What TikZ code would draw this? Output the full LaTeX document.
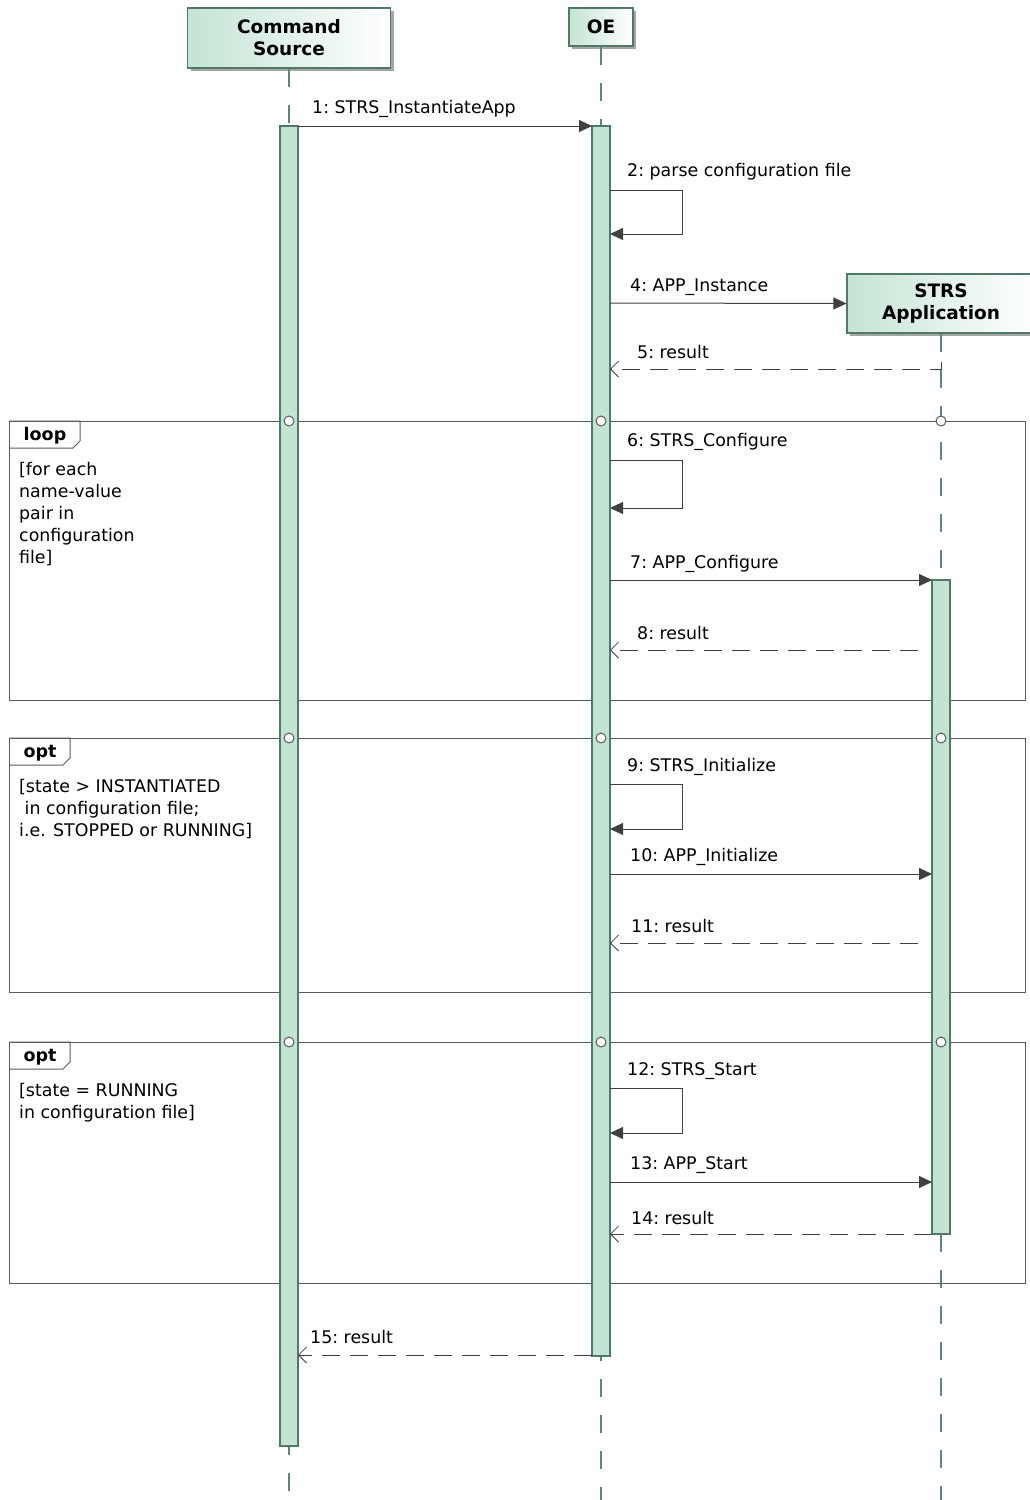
\documentclass[tikz,border=0pt]{standalone}
\usepackage{fontspec}
\setmainfont{DejaVu Sans}
\usetikzlibrary{arrows.meta,shadows}
\definecolor{barfill}{RGB}{195,227,211}
\definecolor{barline}{RGB}{78,122,102}
\definecolor{hdrfill}{RGB}{196,228,212}
\definecolor{lifec}{RGB}{96,134,116}
\definecolor{msgc}{RGB}{64,64,64}
\definecolor{fragc}{RGB}{90,90,90}
\tikzset{
  head/.style={draw=barline, line width=1.2pt, left color=hdrfill, right color=white,
    align=center, font=\fontsize{18.5}{22}\selectfont\bfseries, inner sep=0pt,
    drop shadow={shadow xshift=3pt, shadow yshift=-3pt, fill=black!35, opacity=1}},
  bar/.style={draw=barline, fill=barfill, line width=1.2pt, minimum width=18pt, inner sep=0pt, outer sep=0pt, anchor=north},
  lifeline/.style={draw=lifec, line width=1.2pt, dash pattern=on 18pt off 18pt},
  msg/.style={draw=msgc, line width=1pt, -{Triangle[length=13pt,width=12pt]}},
  reply/.style={draw=msgc, line width=1pt, dash pattern=on 18pt off 10pt, -{Straight Barb[length=8pt,width=16pt,line width=0.8pt]}},
  lbl/.style={anchor=west, inner sep=0pt, font=\fontsize{17.4}{22}\selectfont},
  guard/.style={anchor=north west, inner sep=0pt, align=left, font=\fontsize{17.4}{22}\selectfont},
  frag/.style={draw=fragc, line width=1pt},
  tabtxt/.style={inner sep=0pt, font=\fontsize{17.5}{22}\selectfont\bfseries},
  gate/.style={circle, draw=fragc, fill=white, line width=1pt, minimum size=10pt, inner sep=0pt}
}
\begin{document}
\begin{tikzpicture}[x=1pt,y=-1pt]
\useasboundingbox[fill=white] (0,0) rectangle (1030,1500);
% headers
\node[head, minimum width=203pt, minimum height=60pt] (cs) at (289,38) {Command\\Source};
\node[head, minimum width=64pt, minimum height=38pt] (oe) at (601,27) {OE};
\node[head, minimum width=188pt, minimum height=59pt] (app) at (941,303.5) {STRS\\Application};
% lifelines
\coordinate (csend) at (289,1500);
\coordinate (oeend) at (601,1500);
\coordinate (append) at (941,1500);
\draw[lifeline] (cs.south) -- (csend);
\draw[lifeline] (oe.south) -- (oeend);
\draw[lifeline] (app.south) -- (append);
% fragments
\node[frag, draw, minimum width=1016pt, minimum height=279pt, inner sep=0pt, anchor=north west] (loopf) at (9,421) {};
\node[frag, draw, minimum width=1016pt, minimum height=254pt, inner sep=0pt, anchor=north west] (opt1) at (9,738) {};
\node[frag, draw, minimum width=1016pt, minimum height=241pt, inner sep=0pt, anchor=north west] (opt2) at (9,1042) {};
\draw[frag] (loopf.north west) -- ++(71,0) -- ++(0,20) -- ++(-7,7) -- ++(-64,0);
\draw[frag] (opt1.north west) -- ++(61,0) -- ++(0,20) -- ++(-7,7) -- ++(-54,0);
\draw[frag] (opt2.north west) -- ++(61,0) -- ++(0,20) -- ++(-7,7) -- ++(-54,0);
\node[tabtxt] (looplbl) at (45,436) {loop};
\node[tabtxt] (opt1lbl) at (40,753) {opt};
\node[tabtxt] (opt2lbl) at (40,1057) {opt};
\node[guard] (g1) at (19,462) {[for each\\name-value\\pair in\\configuration\\file]};
\node[guard] (g2) at (19,779) {[state > INSTANTIATED\\\ in configuration file;\\i.e. STOPPED or RUNNING]};
\node[guard] (g3) at (19,1083) {[state = RUNNING\\in configuration file]};
% activation bars
\node[bar, minimum height=1320pt] (csbar) at (289,126) {};
\node[bar, minimum height=1230pt] (oebar) at (601,126) {};
\node[bar, minimum height=654pt] (appbar) at (941,580) {};
% gates
\foreach \yy/\nm in {421/a,738/b,1042/c}{
  \node[gate] (gcs\nm) at (289,\yy) {};
  \node[gate] (goe\nm) at (601,\yy) {};
  \node[gate] (gap\nm) at (941,\yy) {};
}
% messages
\draw[msg] (csbar.east |- 0,126) -- (oebar.west |- 0,126);
\node[lbl] (l1) at (312,109) {1:\ STRS\_InstantiateApp};
\draw[msg] (oebar.east |- 0,190) -- (682,190) -- (682,234) -- (oebar.east |- 0,234);
\node[lbl] (l2) at (627,172) {2:\ parse configuration file};
\draw[msg] (oebar.east |- 0,303) -- (app.west);
\node[lbl] (l4) at (630,287) {4:\ APP\_Instance};
\draw[reply] (941,362) -- (941,369) -- (oebar.east |- 0,369);
\node[lbl] (l5) at (637,352) {5:\ result};
\draw[msg] (oebar.east |- 0,460) -- (682,460) -- (682,508) -- (oebar.east |- 0,508);
\node[lbl] (l6) at (627,442) {6:\ STRS\_Configure};
\draw[msg] (oebar.east |- 0,580) -- (appbar.west |- 0,580);
\node[lbl] (l7) at (630,564) {7:\ APP\_Configure};
\draw[reply] (918,650) -- (oebar.east |- 0,650);
\node[lbl] (l8) at (637,633) {8:\ result};
\draw[msg] (oebar.east |- 0,784) -- (682,784) -- (682,829) -- (oebar.east |- 0,829);
\node[lbl] (l9) at (627,767) {9:\ STRS\_Initialize};
\draw[msg] (oebar.east |- 0,874) -- (appbar.west |- 0,874);
\node[lbl] (l10) at (630,857) {10:\ APP\_Initialize};
\draw[reply] (918,943) -- (oebar.east |- 0,943);
\node[lbl] (l11) at (631,926) {11:\ result};
\draw[msg] (oebar.east |- 0,1088) -- (682,1088) -- (682,1133) -- (oebar.east |- 0,1133);
\node[lbl] (l12) at (627,1071) {12:\ STRS\_Start};
\draw[msg] (oebar.east |- 0,1182) -- (appbar.west |- 0,1182);
\node[lbl] (l13) at (630,1165) {13:\ APP\_Start};
\draw[reply] (appbar.west |- 0,1234) -- (oebar.east |- 0,1234);
\node[lbl] (l14) at (631,1218) {14:\ result};
\draw[reply] (oebar.west |- 0,1355) -- (csbar.east |- 0,1355);
\node[lbl] (l15) at (310,1337) {15:\ result};
\end{tikzpicture}
\end{document}
